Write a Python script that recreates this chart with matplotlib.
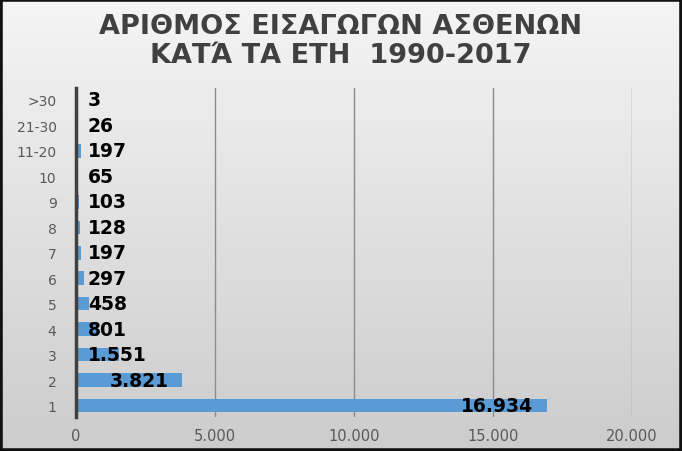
import matplotlib.pyplot as plt
import numpy as np

# Data
categories = ['1', '2', '3', '4', '5', '6', '7', '8', '9', '10', '11-20', '21-30', '>30']
values = [16934, 3821, 1551, 801, 458, 297, 197, 128, 103, 65, 197, 26, 3]
labels = ['16.934', '3.821', '1.551', '801', '458', '297', '197', '128', '103', '65', '197', '26', '3']
xticks = [0, 5000, 10000, 15000, 20000]
xticklabels = ['0', '5.000', '10.000', '15.000', '20.000']

fig = plt.figure(figsize=(6.82, 4.52), dpi=100)

# gradient background
bg = fig.add_axes([0, 0, 1, 1])
grad = np.linspace(0, 1, 256).reshape(-1, 1)
c_top = np.array([0.96, 0.96, 0.96])
c_bot = np.array([0.80, 0.80, 0.80])
img = c_top + (c_bot - c_top) * grad[:, :, None]
bg.imshow(img, aspect='auto', extent=[0, 1, 0, 1])
bg.set_axis_off()
fig.patches.append(plt.Rectangle((0, 0), 1, 1, transform=fig.transFigure,
                                 fill=False, edgecolor='#111111', linewidth=4))

ax = fig.add_axes([0.1114, 0.0752, 0.815, 0.7268])
ax.patch.set_alpha(0)
y = np.arange(len(categories))
ax.barh(y, values, height=0.53, color='#5B9BD5', zorder=2)

ax.set_xlim(0, 20000)
ax.set_ylim(-0.45, len(categories) - 0.55)
ax.set_xticks(xticks)
ax.set_xticklabels(xticklabels, color='#595959', fontsize=10.5)
ax.set_yticks(y)
ax.set_yticklabels(categories, color='#595959', fontsize=10)
ax.grid(axis='x', color='#8c8c8c', linewidth=1, zorder=0)
ax.tick_params(axis='x', length=0, pad=8)
ax.tick_params(axis='y', length=0, pad=14)
for s in ['top', 'right', 'bottom']:
    ax.spines[s].set_visible(False)
ax.spines['left'].set_color('#404040')
ax.spines['left'].set_linewidth(2.5)
ax.spines['left'].set_zorder(3)

for yi, v, lab in zip(y, values, labels):
    if v > 3000:
        ax.text(v - 470, yi, lab, ha='right', va='center', fontsize=13.5,
                fontweight='bold', color='black', zorder=4)
    else:
        ax.text(430, yi, lab, ha='left', va='center', fontsize=13.5,
                fontweight='bold', color='black', zorder=4)

fig.text(0.5, 0.940, 'ΑΡΙΘΜΟΣ ΕΙΣΑΓΩΓΩΝ ΑΣΘΕΝΩΝ', ha='center', va='center',
         fontsize=19.5, fontweight='bold', color='#404040')
fig.text(0.5, 0.876, 'ΚΑΤΆ ΤΑ ΕΤΗ  1990-2017', ha='center', va='center',
         fontsize=19.5, fontweight='bold', color='#404040')

fig.savefig('out.png', dpi=100)
